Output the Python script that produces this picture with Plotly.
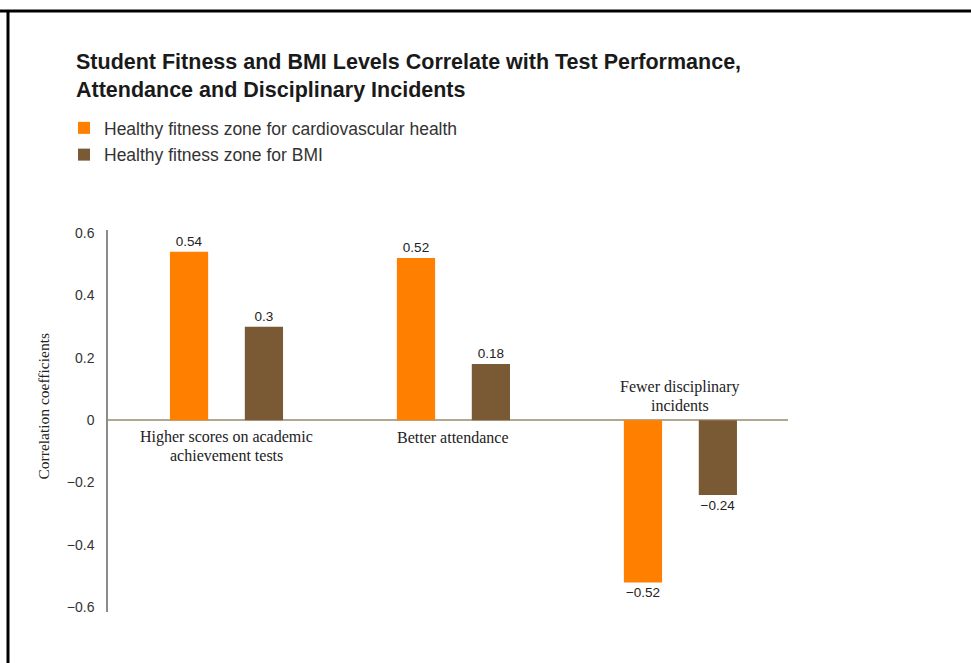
import plotly.graph_objects as go

categories = ["Higher scores on academic<br>achievement tests", "Better attendance", "Fewer disciplinary<br>incidents"]
cardio = [0.54, 0.52, -0.52]
bmi = [0.30, 0.18, -0.24]
series_names = ["Healthy fitness zone for cardiovascular health", "Healthy fitness zone for BMI"]
tick_vals = [0.6, 0.4, 0.2, 0, -0.2, -0.4, -0.6]
tick_text = ["0.6", "0.4", "0.2", "0", "\u22120.2", "\u22120.4", "\u22120.6"]

ORANGE = "#FF7F00"
BROWN = "#7A5A35"

def fmt(v):
    s = ("%g" % abs(v))
    return ("\u2212" + s) if v < 0 else s

xs = [0, 1, 2]
SANS = "Liberation Sans, Arial, sans-serif"
SERIF = "Liberation Serif, DejaVu Serif, serif"

fig = go.Figure()
for name, vals, col, grp in [(series_names[0], cardio, ORANGE, "a"), (series_names[1], bmi, BROWN, "b")]:
    fig.add_trace(go.Bar(
        x=xs, y=vals, name=name, marker=dict(color=col, line=dict(width=0)),
        text=[fmt(v) for v in vals], textposition="outside",
        textfont=dict(family=SANS, size=13.5, color="#222"),
        cliponaxis=False, legendgroup=grp,
    ))

L, R, T, B = 108, 183, 230, 51
W, H = 971, 663
pw, ph = W - L - R, H - T - B

def px(x):
    return (x - L) / pw

def py(y):
    return (H - B - y) / ph

fig.update_layout(
    width=W, height=H,
    margin=dict(l=L, r=R, t=T, b=B, autoexpand=False),
    paper_bgcolor="white", plot_bgcolor="white",
    barmode="group", bargap=0.34, bargroupgap=0.49,
    showlegend=True,
    legend=dict(
        x=px(64), y=py(110), xanchor="left", yanchor="top",
        font=dict(family=SANS, size=17.5, color="#333"),
        traceorder="grouped", tracegroupgap=1, itemwidth=30,
        bgcolor="rgba(0,0,0,0)",
    ),
    xaxis=dict(range=[-0.522, 2.474], showticklabels=False, showgrid=False,
               zeroline=False, showline=False, fixedrange=True),
    yaxis=dict(range=[-0.615, 0.61], tickvals=tick_vals, ticktext=tick_text,
               showgrid=False, showline=True, linecolor="#8c8c8c", linewidth=1.5,
               zeroline=True, zerolinecolor="#b3a88f", zerolinewidth=2,
               ticks="", ticklabelstandoff=9,
               tickfont=dict(family=SANS, size=14, color="#333")),
    font=dict(family=SANS),
)

# Title (two lines)
title_lines = ["Student Fitness and BMI Levels Correlate with Test Performance,",
               "Attendance and Disciplinary Incidents"]
for i, line in enumerate(title_lines):
    fig.add_annotation(text="<b>" + line + "</b>", xref="paper", yref="paper",
                       x=px(74), y=py(62 + 28 * i), xanchor="left", yanchor="middle",
                       showarrow=False,
                       font=dict(family=SANS, size=21.5, color="#1a1a1a"))

# Category labels (each line separately for tight line spacing)
serif = dict(family=SERIF, size=16, color="#222")
LINE = 18
for i, (cat, c) in enumerate(zip(categories, cardio)):
    lines = cat.split("<br>")
    n = len(lines)
    for j, ln in enumerate(lines):
        if c >= 0:
            shift = -17 - LINE * j
        else:
            shift = 15 + LINE * (n - 1 - j)
        fig.add_annotation(text=ln, x=xs[i], y=0, xref="x", yref="y", yanchor="middle",
                           yshift=shift, showarrow=False, font=serif)

# Y axis title
fig.add_annotation(text="Correlation coefficients", xref="paper", yref="paper",
                   x=px(32), y=py(407), textangle=-90, showarrow=False,
                   font=dict(family=SERIF, size=15.5, color="#222"))

# Page frame (top and left border)
fig.add_shape(type="line", xref="paper", yref="paper", x0=px(0), x1=px(971), y0=py(11), y1=py(11),
              line=dict(color="black", width=3))
fig.add_shape(type="line", xref="paper", yref="paper", x0=px(8), x1=px(8), y0=py(10), y1=py(663),
              line=dict(color="black", width=3))

fig.write_html("out.html")
